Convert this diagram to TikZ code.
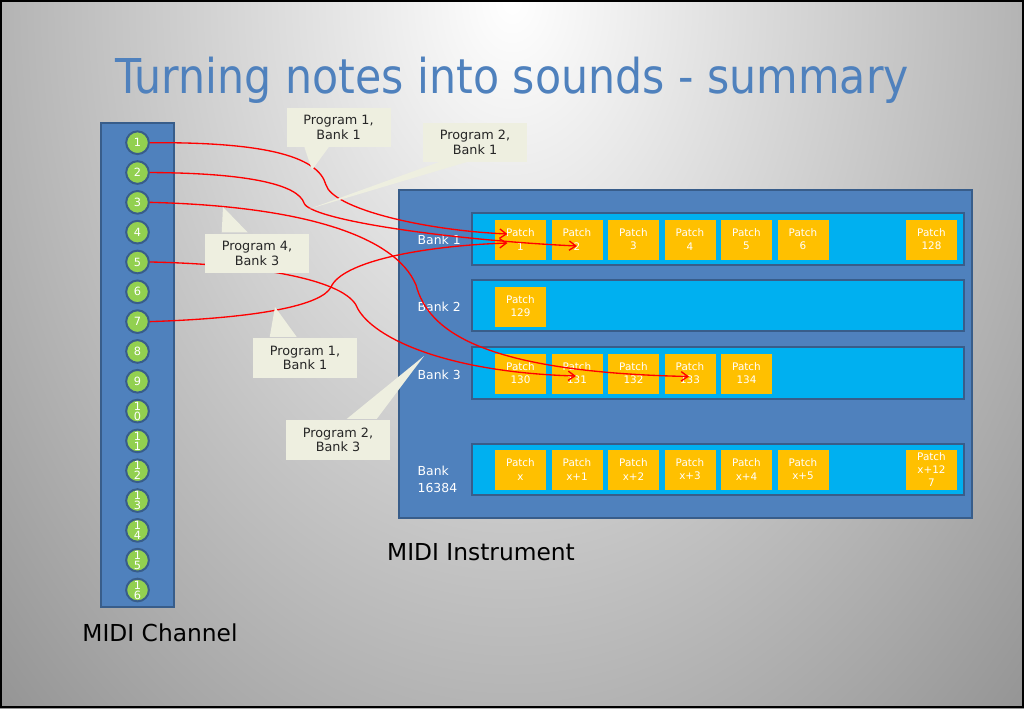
\documentclass[tikz,border=0pt]{standalone}
\usepackage{fontspec}
\setmainfont{DejaVu Sans}
\newfontfamily\titlefont[FakeStretch=0.89]{DejaVu Sans}
\usetikzlibrary{calc,arrows.meta}
\definecolor{panelblue}{HTML}{4F81BD}
\definecolor{paneledge}{HTML}{385D8A}
\definecolor{bankcyan}{HTML}{00B0F0}
\definecolor{patchgold}{HTML}{FFC000}
\definecolor{chgreen}{HTML}{92D050}
\definecolor{notefill}{HTML}{EEEFE0}
\begin{document}
\begin{tikzpicture}[x=0.75pt, y=-0.75pt,
    chan/.style={circle, minimum size=17pt, inner sep=0pt, fill=chgreen, draw=paneledge, line width=1.5pt, text=white, align=center, font=\fontsize{8.5}{7.5}\selectfont},
    patch/.style={rectangle, minimum width=38.25pt, minimum height=30pt, inner sep=0pt, fill=patchgold, text=white, align=center, font=\fontsize{7.8}{9.9}\selectfont},
    banklab/.style={anchor=west, text=white, align=left, font=\fontsize{9.3}{12.5}\selectfont},
    bankrow/.style={fill=bankcyan, draw=paneledge, line width=1.5pt},
    note/.style={fill=notefill, minimum width=78pt, minimum height=29.5pt, align=center, text=black!85, font=\fontsize{9.6}{10.8}\selectfont},
    wire/.style={red, line width=1pt, -{Straight Barb[length=5pt,width=7pt]}}]
    % background
    \useasboundingbox (0,0) rectangle (1024,708);
    \begin{scope}
        \clip (0,0) rectangle (1024,708);
        \shade[inner color=white, outer color=black!52] (512,0) ellipse (900 and 1250);
    \end{scope}
    % title
    \node[anchor=base, text=panelblue, font=\titlefont\fontsize{36}{40}\selectfont] (title) at (512,93) {Turning notes into sounds - summary};
    % MIDI channel column
    \draw[fill=panelblue, draw=paneledge, line width=1.5pt] (101,123) rectangle (174,607);
    \foreach \i/\t in {1/1,2/2,3/3,4/4,5/5,6/6,7/7,8/8,9/9,10/{1\\0},11/{1\\1},12/{1\\2},13/{1\\3},14/{1\\4},15/{1\\5},16/{1\\6}}
        \node[chan] (c\i) at (137.5,{142.7+29.82*(\i-1)}) {\t};
    \node[anchor=base, font=\fontsize{17.5}{20}\selectfont] (chlabel) at (160,641) {MIDI Channel};
    % MIDI instrument
    \draw[fill=panelblue, draw=paneledge, line width=1.5pt] (399,190) rectangle (972,518);
    \draw[bankrow] (472,213) rectangle (964,265);
    \draw[bankrow] (472,280) rectangle (964,331);
    \draw[bankrow] (472,347) rectangle (964,399);
    \draw[bankrow] (472,444) rectangle (964,495);
    \node[banklab] (l1) at (413,240) {Bank 1};
    \node[banklab] (l2) at (413,307) {Bank 2};
    \node[banklab] (l3) at (413,375) {Bank 3};
    \node[banklab] (lx) at (413,479.5) {Bank\\16384};
    \node[anchor=base, font=\fontsize{17.5}{20}\selectfont] (inlabel) at (481,560) {MIDI Instrument};
    % patches
    \foreach \t [count=\n] in {1,...,6}
        \node[patch] (p\t) at ({520.5+56.5*(\n-1)},239.5) {Patch\\\t};
    \node[patch] (p128) at (931.5,239.5) {Patch\\128};
    \node[patch] (p129) at (520.5,306.5) {Patch\\129};
    \foreach \t [count=\n] in {130,...,134}
        \node[patch] (p\t) at ({520.5+56.5*(\n-1)},373.5) {Patch\\\t};
    \foreach \t/\s [count=\n] in {x/0,x+1/1,x+2/2,x+3/3,x+4/4,x+5/5}
        \node[patch] (px\s) at ({520.5+56.5*(\n-1)},469.5) {Patch\\\t};
    \node[patch] (px127) at (931.5,469.5) {Patch\\x+12\\7};
    % channel -> patch
    \draw[wire] (c1.east) .. controls (260,142) and (318,155) .. (326,185) .. controls (333,208) and (420,230) .. ($(p1)+(-13,-5.5)$);
    \draw[wire] (c2.east) .. controls (250,173) and (298,185) .. (304,203) .. controls (310,220) and (450,240) .. ($(p2)+(0,6.5)$);
    \draw[wire] (c3.east) .. controls (300,206) and (395,235) .. (416,285) .. controls (428,330) and (480,372) .. ($(p133)+(-1,3)$);
    \draw[wire] (c5.east) .. controls (250,264) and (340,278) .. (356,305) .. controls (368,335) and (440,372) .. ($(p131)+(-1,2.5)$);
    \draw[wire] (c7.east) .. controls (260,318) and (322,305) .. (331,287) .. controls (342,262) and (420,246) .. ($(p1)+(-13,3.5)$);
    % callouts
    \node[note] (k1) at (338.5,127.5) {Program 1,\\Bank 1};
    \fill[notefill] ($(k1.south west)+(18,-1)$) -- (312,170) -- ($(k1.south west)+(43,-1)$) -- cycle;
    \node[note] (k2) at (475,142.5) {Program 2,\\Bank 1};
    \fill[notefill] ($(k2.south west)+(18,-1)$) -- (309,209) -- ($(k2.south west)+(46,-1)$) -- cycle;
    \node[note] (k3) at (257,253.5) {Program 4,\\Bank 3};
    \fill[notefill] ($(k3.south west)+(17,-41)$) -- (223,207) -- ($(k3.south west)+(43,-41)$) -- cycle;
    \node[note] (k4) at (305,358) {Program 1,\\Bank 1};
    \fill[notefill] ($(k4.south west)+(17,-41)$) -- (275,307) -- ($(k4.south west)+(44,-41)$) -- cycle;
    \node[note] (k5) at (338,440) {Program 2,\\Bank 3};
    \fill[notefill] ($(k5.south west)+(61,-41)$) -- (424,356) -- ($(k5.south west)+(91,-41)$) -- cycle;
    % frame
    \draw[black, line width=1.5pt] (1,1) rectangle (1023,707);
\end{tikzpicture}
\end{document}
